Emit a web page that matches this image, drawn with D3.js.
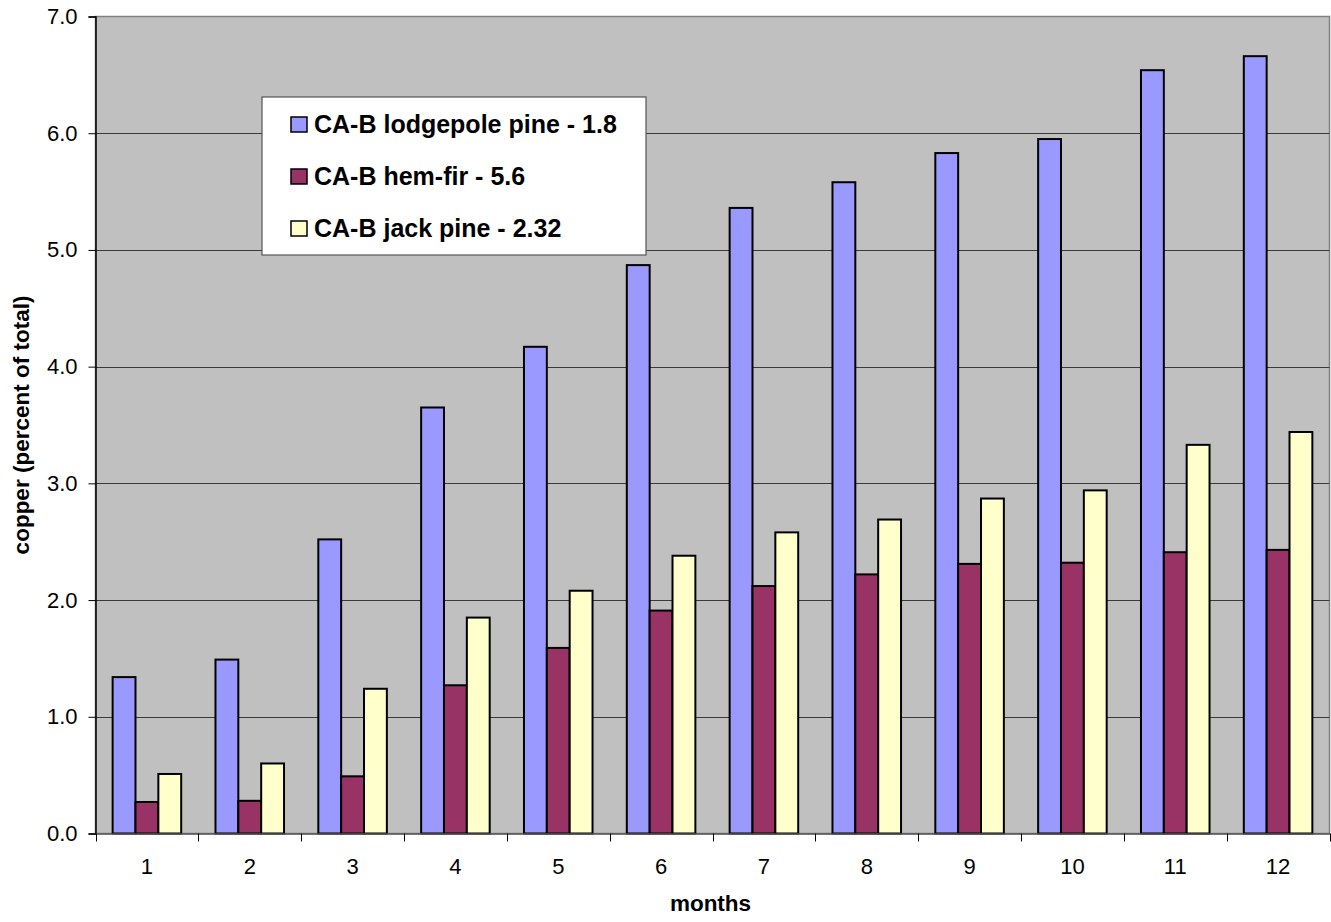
<!DOCTYPE html>
<html>
<head>
<meta charset="utf-8">
<script src="https://cdn.jsdelivr.net/npm/d3@7"></script>
<style>
  html, body { margin: 0; padding: 0; background: #ffffff; }
  svg { display: block; font-family: "Liberation Sans", Arial, sans-serif; }
</style>
</head>
<body>
<svg id="chart" width="1331" height="922"></svg>
<script>
// Months on the x axis
const months = ["1", "2", "3", "4", "5", "6", "7", "8", "9", "10", "11", "12"];

// Series: copper leached (percent of total) per month
const seriesNames = ["CA-B lodgepole pine - 1.8", "CA-B hem-fir - 5.6", "CA-B jack pine - 2.32"];
const lodgepole = [1.34, 1.49, 2.52, 3.65, 4.17, 4.87, 5.36, 5.58, 5.83, 5.95, 6.54, 6.66];
const hemFir    = [0.27, 0.28, 0.49, 1.27, 1.59, 1.91, 2.12, 2.22, 2.31, 2.32, 2.41, 2.43];
const jackPine  = [0.51, 0.60, 1.24, 1.85, 2.08, 2.38, 2.58, 2.69, 2.87, 2.94, 3.33, 3.44];
const seriesColors = ["#9999ff", "#993366", "#ffffcc"];

// Y axis ticks
const yTicks = [0, 1, 2, 3, 4, 5, 6, 7];
const yTickLabels = ["0.0", "1.0", "2.0", "3.0", "4.0", "5.0", "6.0", "7.0"];

const seriesValues = [lodgepole, hemFir, jackPine];

const svg = d3.select("#chart");
const plot = { left: 95.5, top: 16.5, right: 1329.5, bottom: 833.5 };
const tickFont = 22;
const titleFont = 22.5;
const legendFont = 25;

const x0 = d3.scaleBand()
  .domain(months)
  .range([plot.left, plot.right])
  .paddingInner(0)
  .paddingOuter(0);

// Bars use 1/4.5 of each category; the rest is gap (150% gap width)
const barW = x0.bandwidth() / 4.5;
const x1 = d3.scaleBand()
  .domain(d3.range(seriesNames.length))
  .range([barW * 0.75, barW * 3.75]);

const y = d3.scaleLinear().domain([0, 7]).range([plot.bottom, plot.top]);

// Plot background
svg.append("rect")
  .attr("x", plot.left).attr("y", plot.top)
  .attr("width", plot.right - plot.left).attr("height", plot.bottom - plot.top)
  .attr("fill", "#c0c0c0")
  .attr("stroke", "#808080").attr("stroke-width", 1.5);

// Gridlines
svg.append("g")
  .selectAll("line")
  .data(yTicks.filter(d => d > 0 && d < 7))
  .join("line")
  .attr("x1", plot.left).attr("x2", plot.right)
  .attr("y1", d => Math.round(y(d)) + 0.5).attr("y2", d => Math.round(y(d)) + 0.5)
  .attr("stroke", "#3a3a3a").attr("stroke-width", 1);

// Bars
const groups = svg.append("g")
  .selectAll("g")
  .data(months)
  .join("g")
  .attr("transform", d => `translate(${x0(d)},0)`);

groups.selectAll("rect")
  .data((m, i) => seriesValues.map((vals, s) => ({ s, v: vals[i] })))
  .join("rect")
  .attr("x", d => x1(d.s))
  .attr("width", barW)
  .attr("y", d => y(d.v))
  .attr("height", d => y(0) - y(d.v))
  .attr("fill", d => seriesColors[d.s])
  .attr("stroke", "#000000")
  .attr("stroke-width", 2);

// Y axis
const yAxis = d3.axisLeft(y)
  .tickValues(yTicks)
  .tickFormat((d, i) => yTickLabels[i])
  .tickSize(7)
  .tickPadding(11);
const gy = svg.append("g")
  .attr("transform", `translate(${plot.left},0)`)
  .call(yAxis);
gy.select(".domain").attr("stroke", "#000").attr("stroke-width", 1.5);
gy.selectAll(".tick line").attr("stroke", "#000");
gy.selectAll("text").attr("font-size", tickFont).attr("fill", "#000")
  .attr("font-family", "'Liberation Sans', Arial, sans-serif");

// X axis with ticks on category boundaries
const xAxis = d3.axisBottom(x0).tickSize(0).tickPadding(25);
const gx = svg.append("g")
  .attr("transform", `translate(0,${plot.bottom})`)
  .call(xAxis);
gx.select(".domain").attr("stroke", "#555").attr("stroke-width", 1.5);
gx.selectAll("text").attr("font-size", tickFont).attr("fill", "#000")
  .attr("font-family", "'Liberation Sans', Arial, sans-serif");

svg.append("g")
  .selectAll("line")
  .data(months.concat(["end"]))
  .join("line")
  .attr("x1", (d, i) => Math.round(plot.left + i * x0.step()) + 0.5)
  .attr("x2", (d, i) => Math.round(plot.left + i * x0.step()) + 0.5)
  .attr("y1", plot.bottom).attr("y2", plot.bottom + 8)
  .attr("stroke", "#000").attr("stroke-width", 1);

// Axis titles
svg.append("text")
  .attr("x", (plot.left + plot.right) / 2 - 2)
  .attr("y", 911)
  .attr("text-anchor", "middle")
  .attr("font-size", titleFont).attr("font-weight", "bold")
  .text("months");

svg.append("text")
  .attr("transform", `translate(29,${(plot.top + plot.bottom) / 2}) rotate(-90)`)
  .attr("text-anchor", "middle")
  .attr("font-size", titleFont).attr("font-weight", "bold")
  .text("copper (percent of total)");

// Legend
const legend = svg.append("g").attr("transform", "translate(262,97)");
legend.append("rect")
  .attr("x", 0).attr("y", 0)
  .attr("width", 384).attr("height", 158)
  .attr("fill", "#ffffff").attr("stroke", "#555").attr("stroke-width", 1.2);

const items = legend.selectAll("g.item")
  .data(seriesNames)
  .join("g")
  .attr("class", "item")
  .attr("transform", (d, i) => `translate(0,${36 + i * 52})`);

items.append("rect")
  .attr("x", 29).attr("y", -16)
  .attr("width", 16).attr("height", 15)
  .attr("fill", (d, i) => seriesColors[i])
  .attr("stroke", "#000").attr("stroke-width", 1.5);

items.append("text")
  .attr("x", 52).attr("y", 0)
  .attr("font-size", legendFont).attr("font-weight", "bold")
  .text(d => d);
</script>
</body>
</html>
